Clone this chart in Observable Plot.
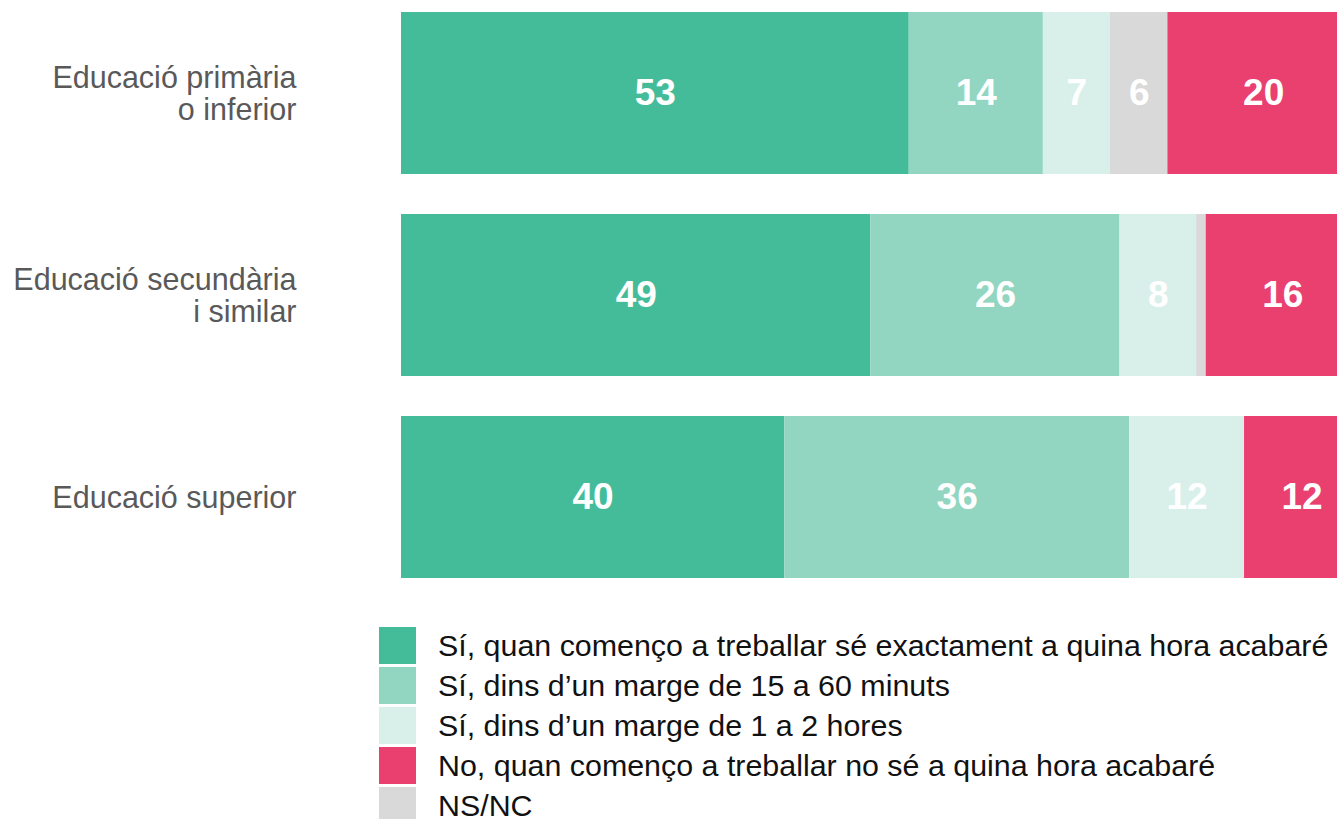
<!DOCTYPE html>
<html>
<head>
<meta charset="utf-8">
<script src="https://cdn.jsdelivr.net/npm/d3@7"></script>
<script src="https://cdn.jsdelivr.net/npm/@observablehq/plot@0.6"></script>
<style>
  html, body { margin: 0; padding: 0; background: #fff; overflow: hidden; }
  body { width: 1337px; height: 819px; font-family: "Liberation Sans", Arial, sans-serif; }
  #chart svg { overflow: hidden; display: block; }
  #legend { position: absolute; left: 379px; top: 627px; }
  .item { display: flex; align-items: center; height: 37px; margin-bottom: 3px; }
  .sw { width: 37px; height: 37px; flex: none; }
  .lab { margin-left: 22px; font-size: 30.4px; color: #111; white-space: nowrap; line-height: 37px; }
</style>
</head>
<body>
<div id="chart"></div>
<div id="legend"></div>
<script>
const categories = ["Educació primària\no inferior", "Educació secundària\ni similar", "Educació superior"];
const series = [
  "Sí, quan començo a treballar sé exactament a quina hora acabaré",
  "Sí, dins d’un marge de 15 a 60 minuts",
  "Sí, dins d’un marge de 1 a 2 hores",
  "NS/NC",
  "No, quan començo a treballar no sé a quina hora acabaré"
];
const colors = ["#45BC99", "#92D6C1", "#D9F0EA", "#D9D9D9", "#E94070"];
// values per series, in category order
const valExact = [53, 49, 40];
const val15to60 = [14, 26, 36];
const val1to2 = [7, 8, 12];
const valNSNC = [6, 1, 0];
const valNo = [20, 16, 12];
const legendOrder = [0, 1, 2, 4, 3];

const seriesValues = [valExact, val15to60, val1to2, valNSNC, valNo];
const data = [];
categories.forEach((c, i) => {
  series.forEach((s, j) => {
    data.push({cat: c, series: s, value: seriesValues[j][i]});
  });
});

const chart = Plot.plot({
  width: 1337,
  height: 590,
  marginLeft: 401,
  marginRight: -22,
  marginTop: 11,
  marginBottom: 12,
  style: {fontFamily: "'Liberation Sans', Arial, sans-serif", background: "#fff"},
  x: {domain: [0, 100], axis: null},
  y: {domain: categories, paddingInner: 0.2, paddingOuter: 0, label: null},
  color: {domain: series, range: colors},
  marks: [
    Plot.barX(data, Plot.stackX({x: "value", y: "cat", fill: "series", z: "series", insetLeft: 0, insetRight: 0})),
    Plot.text(data, Plot.stackX({
      x: "value", y: "cat", z: "series",
      text: d => d.value >= 2 ? String(d.value) : "",
      fill: "white", fontSize: 37, fontWeight: "bold"
    })),
    Plot.axisY({tickSize: 0, tickPadding: 105, fontSize: 30.5, lineHeight: 1.06, fill: "#595959", textAnchor: "end", label: null})
  ]
});
document.getElementById("chart").appendChild(chart);

const legend = document.getElementById("legend");
legendOrder.forEach(j => {
  const it = document.createElement("div");
  it.className = "item";
  const sw = document.createElement("div");
  sw.className = "sw";
  sw.style.background = colors[j];
  const lab = document.createElement("div");
  lab.className = "lab";
  lab.textContent = series[j];
  it.appendChild(sw); it.appendChild(lab);
  legend.appendChild(it);
});
</script>
</body>
</html>
